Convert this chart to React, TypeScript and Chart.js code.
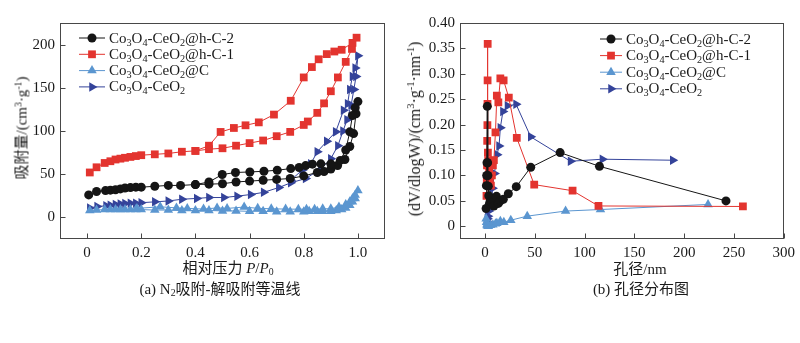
import React, { useEffect, useRef } from 'react';
import { Chart, registerables } from 'chart.js';

Chart.register(...registerables);

// ---------- shared series info ----------
const seriesLabels = ['Co₃O₄-CeO₂@h-C-2', 'Co₃O₄-CeO₂@h-C-1', 'Co₃O₄-CeO₂@C', 'Co₃O₄-CeO₂'];
const seriesColors = ['#151515', '#e3342f', '#5b96d0', '#34439a'];
const seriesPointStyles = ['circle', 'rect', 'triangle', 'triangle'];
const seriesRotations = [0, 0, 0, 90];
const seriesRadii = [4.5, 5.5, 5.5, 5.5];

// ---------- (a) N2 isotherms: adsorption then desorption ----------
const isoHC2P = [0.006, 0.035, 0.068, 0.086, 0.105, 0.123, 0.14, 0.16, 0.18, 0.2, 0.25, 0.3, 0.345, 0.4, 0.45, 0.5, 0.55, 0.6, 0.65, 0.7, 0.75, 0.8, 0.85, 0.875, 0.9, 0.925, 0.952, 0.97, 0.984, 0.993, 1.0,
  0.99, 0.98, 0.97, 0.955, 0.935, 0.9, 0.863, 0.832, 0.807, 0.783, 0.752, 0.702, 0.653, 0.601, 0.548, 0.499, 0.45, 0.4];
const isoHC2V = [26, 30, 31, 31.5, 32, 33, 34, 34.5, 35, 35, 36, 37, 37, 38, 38.5, 39, 41, 42, 43, 44, 45, 48, 52, 53, 56, 60, 67, 82, 97, 120, 134,
  127, 118, 99, 78, 66, 62, 62, 61.6, 60, 57.7, 56.5, 54.6, 53.4, 52.6, 52, 49.6, 41, 38];

const isoHC1P = [0.01, 0.035, 0.065, 0.086, 0.105, 0.123, 0.14, 0.16, 0.18, 0.2, 0.25, 0.3, 0.35, 0.4, 0.45, 0.5, 0.55, 0.6, 0.65, 0.7, 0.75, 0.8, 0.815, 0.85, 0.875, 0.9, 0.926, 0.955, 0.978, 0.995,
  0.98, 0.94, 0.913, 0.885, 0.855, 0.83, 0.8, 0.752, 0.69, 0.634, 0.585, 0.542, 0.493, 0.45, 0.4];
const isoHC1V = [52, 58, 63, 65, 67, 68, 69, 70, 71, 72, 73, 74, 76, 77, 79, 80, 83, 86, 89, 94, 99, 107, 111, 121, 132, 146, 162, 180, 195, 208,
  202, 194, 192, 189, 183, 174, 162, 135, 119, 110, 106.6, 103.5, 98.9, 83, 77];

const isoCP = [0.01, 0.035, 0.065, 0.086, 0.105, 0.123, 0.14, 0.16, 0.18, 0.2, 0.25, 0.3, 0.35, 0.4, 0.45, 0.5, 0.55, 0.6, 0.65, 0.7, 0.75, 0.8, 0.82, 0.85, 0.87, 0.9, 0.92, 0.94, 0.955, 0.97, 0.98, 0.99, 1.0,
  0.99, 0.98, 0.97, 0.955, 0.93, 0.9, 0.87, 0.84, 0.81, 0.78, 0.733, 0.68, 0.63, 0.58, 0.517, 0.48, 0.43, 0.37, 0.33, 0.27, 0.184];
const isoCV = [8, 8.5, 9, 9, 9, 9, 9, 9, 9, 9, 8.5, 8.5, 8, 8, 8, 7.5, 7.5, 7, 7, 6.5, 6.5, 6.5, 7, 7, 7, 7, 8, 9, 11, 14, 18, 22, 31,
  26, 22, 18, 15, 12, 10, 10, 9.5, 9.5, 9.5, 9.6, 10, 10.5, 12, 10.4, 11, 9.6, 10.4, 11, 12.3, 10.4];

const isoCeP = [0.01, 0.037, 0.07, 0.086, 0.105, 0.123, 0.14, 0.16, 0.18, 0.2, 0.25, 0.3, 0.35, 0.405, 0.45, 0.505, 0.554, 0.604, 0.652, 0.708, 0.752, 0.807, 0.863, 0.9, 0.926, 0.945, 0.96, 0.975, 0.985, 0.993, 1.0,
  0.99, 0.98, 0.97, 0.962, 0.947, 0.918, 0.885, 0.85, 0.826, 0.795, 0.752];
const isoCeV = [11, 12.5, 13.5, 14, 15, 15.5, 16, 16.5, 16.5, 17, 18, 19, 21, 22, 23, 23, 24.6, 26.5, 29, 34.6, 40, 45, 56, 68, 83, 100, 113, 130, 148, 163, 187,
  173, 163, 148, 131.5, 124, 99, 88, 76, 62, 55, 43];

const isoXTicks = [0, 0.2, 0.4, 0.6, 0.8, 1.0];
const isoYTicks = [0, 50, 100, 150, 200];

// ---------- (b) pore size distribution ----------
const poreHC2D = [1.2, 1.5, 1.8, 2.1, 2.4, 2.7, 3.0, 3.4, 3.9, 4.6, 5.6, 7.3, 9, 11.6, 13.5, 15.5, 18.5, 23.5, 31.5, 46, 75.5, 115, 242];
const poreHC2V = [0.035, 0.08, 0.1, 0.125, 0.236, 0.125, 0.1, 0.079, 0.06, 0.045, 0.049, 0.046, 0.04, 0.059, 0.045, 0.05, 0.053, 0.064, 0.078, 0.116, 0.145, 0.118, 0.05];

const poreHC1D = [1.6, 1.9, 2.1, 2.3, 2.5, 2.6, 2.7, 2.8, 3.0, 3.3, 3.7, 4.2, 5, 6, 7, 8, 9, 10.6, 12, 13.5, 15.5, 18.8, 24, 32, 49.5, 88, 114, 259];
const poreHC1V = [0.06, 0.09, 0.12, 0.168, 0.199, 0.241, 0.287, 0.359, 0.145, 0.13, 0.12, 0.11, 0.09, 0.08, 0.1, 0.12, 0.13, 0.185, 0.257, 0.244, 0.291, 0.287, 0.253, 0.174, 0.082, 0.07, 0.04, 0.039];

const poreCD = [1.2, 1.6, 2.0, 2.5, 3.5, 5.6, 8, 10.6, 12, 15.5, 19, 26, 42.5, 81, 116, 224];
const poreCV = [0.015, 0.008, 0.003, 0.001, 0, 0.002, 0.003, 0.005, 0.006, 0.01, 0.008, 0.012, 0.02, 0.03, 0.033, 0.043];

const poreCeD = [1.5, 2, 2.5, 3, 4, 5, 6, 7, 7.6, 9.6, 12.2, 14.2, 15.5, 18.1, 22.7, 31.3, 46, 86, 118, 188.6];
const poreCeV = [0.005, 0.01, 0.015, 0.02, 0.03, 0.04, 0.045, 0.05, 0.075, 0.104, 0.141, 0.158, 0.194, 0.226, 0.237, 0.24, 0.176, 0.128, 0.132, 0.13];

const poreXTicks = [0, 50, 100, 150, 200, 250, 300];
const poreYTicks = [0, 0.05, 0.1, 0.15, 0.2, 0.25, 0.3, 0.35, 0.4];

// ---------- helpers ----------
const SERIF = '"Liberation Serif", "Times New Roman", serif';

function zip(xs: number[], ys: number[]) {
  return xs.map((x, i) => ({ x, y: ys[i] }));
}

function makeDatasets(pairs: [number[], number[]][]) {
  return pairs.map(([xs, ys], i) => ({
    label: seriesLabels[i],
    data: zip(xs, ys),
    showLine: true,
    borderColor: seriesColors[i],
    backgroundColor: seriesColors[i],
    borderWidth: 1,
    pointStyle: seriesPointStyles[i],
    pointRotation: seriesRotations[i],
    pointRadius: seriesRadii[i],
    pointBorderWidth: 0,
    pointHoverRadius: seriesRadii[i],
  }));
}

function drawMarker(ctx: CanvasRenderingContext2D, style: string, x: number, y: number, r: number, rot: number) {
  ctx.beginPath();
  if (style === 'circle') {
    ctx.arc(x, y, r, 0, Math.PI * 2);
  } else if (style === 'rect') {
    const s = Math.SQRT1_2 * r;
    ctx.rect(x - s, y - s, 2 * s, 2 * s);
  } else {
    let rad = (rot * Math.PI) / 180;
    ctx.moveTo(x + Math.sin(rad) * r, y - Math.cos(rad) * r);
    rad += (2 * Math.PI) / 3;
    ctx.lineTo(x + Math.sin(rad) * r, y - Math.cos(rad) * r);
    rad += (2 * Math.PI) / 3;
    ctx.lineTo(x + Math.sin(rad) * r, y - Math.cos(rad) * r);
    ctx.closePath();
  }
  ctx.fill();
}

const SUBS = '₀₁₂₃₄₅₆₇₈₉';
function drawRich(ctx: CanvasRenderingContext2D, text: string, x: number, yBase: number, size: number) {
  let cx = x;
  for (const ch of text) {
    const k = SUBS.indexOf(ch);
    if (k >= 0) {
      ctx.font = `${size * 0.68}px ${SERIF}`;
      ctx.fillText(String(k), cx, yBase + size * 0.2);
      cx += ctx.measureText(String(k)).width;
    } else {
      ctx.font = `${size}px ${SERIF}`;
      ctx.fillText(ch, cx, yBase);
      cx += ctx.measureText(ch).width;
    }
  }
}

const frameTicksPlugin = {
  id: 'frameTicks',
  afterDatasetsDraw(chart: any) {
    const { ctx, chartArea: a, scales } = chart;
    const x = scales.x;
    const y = scales.y;
    ctx.save();
    ctx.strokeStyle = '#474747';
    ctx.lineWidth = 1;
    const l = Math.round(a.left) + 0.5;
    const t = Math.round(a.top) + 0.5;
    const r = Math.round(a.right) - 0.5;
    const b = Math.round(a.bottom) - 0.5;
    ctx.strokeRect(l, t, r - l, b - t);
    ctx.beginPath();
    x.ticks.forEach((tk: any) => {
      const px = Math.round(x.getPixelForValue(tk.value)) + 0.5;
      ctx.moveTo(px, b);
      ctx.lineTo(px, b - 5);
    });
    y.ticks.forEach((tk: any) => {
      const py = Math.round(y.getPixelForValue(tk.value)) + 0.5;
      ctx.moveTo(l, py);
      ctx.lineTo(l + 5, py);
    });
    ctx.stroke();
    ctx.restore();
  },
};

const richLegendPlugin = {
  id: 'richLegend',
  afterDraw(chart: any, _args: any, opts: any) {
    const { ctx } = chart;
    ctx.save();
    ctx.textBaseline = 'alphabetic';
    ctx.fillStyle = '#1a1a1a';
    chart.data.datasets.forEach((ds: any, i: number) => {
      const yc = opts.top + i * opts.rowH;
      ctx.strokeStyle = ds.borderColor;
      ctx.lineWidth = 1;
      ctx.beginPath();
      ctx.moveTo(opts.lineX0, yc + 0.5);
      ctx.lineTo(opts.lineX1, yc + 0.5);
      ctx.stroke();
      ctx.fillStyle = ds.backgroundColor;
      drawMarker(ctx, ds.pointStyle, (opts.lineX0 + opts.lineX1) / 2, yc + 0.5, ds.pointRadius, ds.pointRotation);
      ctx.fillStyle = '#1a1a1a';
      drawRich(ctx, ds.label, opts.textX, yc + 5, 15);
    });
    ctx.restore();
  },
};

function makeConfig(opts: {
  datasets: any[];
  xMin: number; xMax: number; yMin: number; yMax: number;
  xTicks: number[]; yTicks: number[];
  xFmt: (v: number) => string; yFmt: (v: number) => string;
  padRight: number;
  legend: any;
}) {
  const tickFont = { family: SERIF, size: 15 };
  return {
    type: 'scatter' as const,
    data: { datasets: opts.datasets },
    options: {
      animation: false as const,
      responsive: false,
      events: [],
      layout: { padding: { left: 0, top: 23, right: opts.padRight, bottom: 0 } },
      plugins: {
        legend: { display: false },
        tooltip: { enabled: false },
        richLegend: opts.legend,
      },
      scales: {
        x: {
          type: 'linear' as const,
          min: opts.xMin,
          max: opts.xMax,
          grid: { display: false, drawTicks: false },
          border: { display: false },
          ticks: {
            font: tickFont,
            color: '#1a1a1a',
            padding: 5,
            maxRotation: 0,
            autoSkip: false,
            callback: (v: any) => opts.xFmt(Number(v)),
          },
          afterBuildTicks: (s: any) => { s.ticks = opts.xTicks.map((v) => ({ value: v })); },
          afterFit: (s: any) => { s.height = 104; },
        },
        y: {
          type: 'linear' as const,
          min: opts.yMin,
          max: opts.yMax,
          grid: { display: false, drawTicks: false },
          border: { display: false },
          ticks: {
            font: tickFont,
            color: '#1a1a1a',
            padding: 5,
            autoSkip: false,
            callback: (v: any) => opts.yFmt(Number(v)),
          },
          afterBuildTicks: (s: any) => { s.ticks = opts.yTicks.map((v) => ({ value: v })); },
          afterFit: (s: any) => { s.width = 60; },
        },
      },
    },
    plugins: [frameTicksPlugin, richLegendPlugin],
  };
}

const supStyle: React.CSSProperties = { fontSize: '0.65em', verticalAlign: '0.55em', lineHeight: 0 };
const subStyle: React.CSSProperties = { fontSize: '0.65em', verticalAlign: '-0.25em', lineHeight: 0 };

function Label(props: { x: number; y: number; rotate?: boolean; size?: number; children: React.ReactNode }) {
  return (
    <div
      style={{
        position: 'absolute',
        left: props.x,
        top: props.y,
        transform: `translate(-50%, -50%)${props.rotate ? ' rotate(-90deg)' : ''}`,
        whiteSpace: 'nowrap',
        fontSize: props.size ?? 15,
        lineHeight: 1,
        fontFamily: '"Liberation Serif", "Noto Sans CJK SC", serif',
        color: '#1a1a1a',
      }}
    >
      {props.children}
    </div>
  );
}

export default function App() {
  const refA = useRef<HTMLCanvasElement>(null);
  const refB = useRef<HTMLCanvasElement>(null);

  useEffect(() => {
    const chartA = new Chart(refA.current as HTMLCanvasElement, makeConfig({
      datasets: makeDatasets([[isoHC2P, isoHC2V], [isoHC1P, isoHC1V], [isoCP, isoCV], [isoCeP, isoCeV]]),
      xMin: -0.1, xMax: 1.1, yMin: -25, yMax: 225,
      xTicks: isoXTicks, yTicks: isoYTicks,
      xFmt: (v) => (v === 0 ? '0' : v.toFixed(1)),
      yFmt: (v) => String(Math.round(v)),
      padRight: 15,
      legend: { lineX0: 79, lineX1: 105, textX: 109, top: 37.5, rowH: 16.3 },
    }) as any);
    const chartB = new Chart(refB.current as HTMLCanvasElement, makeConfig({
      datasets: makeDatasets([[poreHC2D, poreHC2V], [poreHC1D, poreHC1V], [poreCD, poreCV], [poreCeD, poreCeV]]),
      xMin: -25, xMax: 300, yMin: -0.025, yMax: 0.4,
      xTicks: poreXTicks, yTicks: poreYTicks,
      xFmt: (v) => String(Math.round(v)),
      yFmt: (v) => (v === 0 ? '0' : v.toFixed(2)),
      padRight: 12,
      legend: { lineX0: 200, lineX1: 222, textX: 226, top: 38.5, rowH: 16.6 },
    }) as any);
    return () => {
      chartA.destroy();
      chartB.destroy();
    };
  }, []);

  return (
    <div style={{ position: 'fixed', left: 0, top: 0, width: 800, height: 343, background: '#ffffff', overflow: 'hidden' }}>
      <canvas ref={refA} width={400} height={343} style={{ position: 'absolute', left: 0, top: 0, width: 400, height: 343 }} />
      <canvas ref={refB} width={400} height={343} style={{ position: 'absolute', left: 400, top: 0, width: 400, height: 343 }} />

      <Label x={22} y={128} rotate>
        吸附量/(cm<span style={supStyle}>3</span>·g<span style={supStyle}>-1</span>)
      </Label>
      <Label x={228} y={268}>
        相对压力 <i>P</i>/<i>P</i><span style={subStyle}>0</span>
      </Label>
      <Label x={220} y={289}>
        (a) N<span style={subStyle}>2</span>吸附-解吸附等温线
      </Label>

      <Label x={415} y={129} rotate size={16}>
        (dV/dlogW)/(cm<span style={supStyle}>3</span>·g<span style={supStyle}>-1</span>·nm<span style={supStyle}>-1</span>)
      </Label>
      <Label x={640} y={269}>
        孔径/nm
      </Label>
      <Label x={641} y={289}>
        (b) 孔径分布图
      </Label>
    </div>
  );
}
